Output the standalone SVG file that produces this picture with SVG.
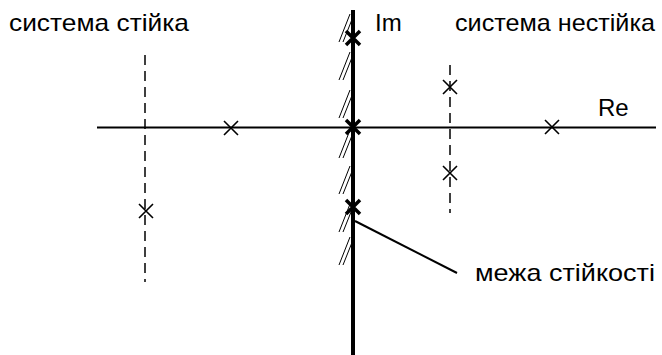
<svg xmlns="http://www.w3.org/2000/svg" width="662" height="355" viewBox="0 0 662 355">
<style>
text{font-family:"Liberation Sans",Arial,sans-serif;font-size:24px;fill:#000}
.ax{stroke:#000;stroke-width:2;fill:none}
.im{stroke:#000;stroke-width:4;fill:none}
.dash{stroke:#000;stroke-width:1.5;stroke-dasharray:10 6;fill:none}
.h{stroke:#000;stroke-width:1;fill:none}
.x{stroke:#000;stroke-width:1.6;fill:none}
.xb{stroke:#000;stroke-width:3.5;fill:none}
</style>
<defs>
<path id="cr" d="M-7,-7L7,7M-7,7L7,-7"/>
<g id="hp"><path d="M339,28L350,0"/><path d="M343,28L353,3"/></g>
</defs>
<g id="connectors">
<line class="ax" x1="97" y1="127.5" x2="656" y2="127.5"/>
<line class="dash" x1="145" y1="55" x2="145" y2="282"/>
<line class="dash" x1="450" y1="65" x2="450" y2="213"/>
<g class="h">
<use href="#hp" y="14"/>
<use href="#hp" y="52"/>
<use href="#hp" y="90"/>
<use href="#hp" y="130"/>
<use href="#hp" y="166"/>
<use href="#hp" y="204"/>
<use href="#hp" y="237"/>
</g>
<line class="im" x1="353" y1="10" x2="353" y2="355"/>
<line class="ax" stroke-width="1.6" x1="355" y1="221" x2="457" y2="273"/>
</g>
<g id="poles">
<use href="#cr" class="x" x="146" y="211"/>
<use href="#cr" class="x" x="231" y="128"/>
<use href="#cr" class="x" x="450" y="87"/>
<use href="#cr" class="x" x="450" y="173"/>
<use href="#cr" class="x" x="552" y="127"/>
<use href="#cr" class="xb" x="353" y="38"/>
<use href="#cr" class="xb" x="353" y="127"/>
<use href="#cr" class="xb" x="353" y="207"/>
</g>
<g id="labels">
<text x="9" y="31" textLength="180" lengthAdjust="spacingAndGlyphs">система стійка</text>
<text x="375" y="31">Im</text>
<text x="455" y="31" textLength="200" lengthAdjust="spacingAndGlyphs">система нестійка</text>
<text x="598" y="116">Re</text>
<text x="475" y="281" textLength="180" lengthAdjust="spacingAndGlyphs">межа стійкості</text>
</g>
</svg>
